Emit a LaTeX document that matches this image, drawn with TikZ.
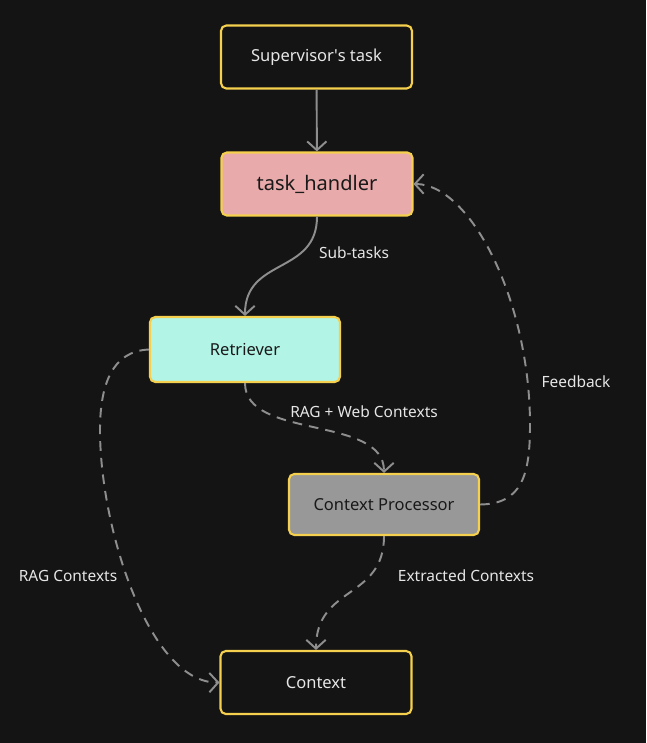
\documentclass[tikz,border=0pt]{standalone}
\usepackage{fontspec}
\setmainfont{Noto Sans}
\usetikzlibrary{arrows.meta}
\definecolor{bgc}{HTML}{141414}
\definecolor{rim}{HTML}{F5D04E}
\definecolor{pinkc}{HTML}{E8AAAA}
\definecolor{mintc}{HTML}{B2F4E6}
\definecolor{greyc}{HTML}{989898}
\definecolor{wire}{HTML}{8E8E8E}
\definecolor{txt}{HTML}{E6E6E6}
\begin{document}
\begin{tikzpicture}[x=0.02cm,y=-0.02cm,
    box/.style={draw=rim,line width=1.2pt,rounded corners=3pt,minimum width=3.82cm,minimum height=1.26cm,font=\fontsize{9.4}{11}\selectfont,text=txt,fill=bgc},
    link/.style={draw=wire,line width=1.1pt,-{Straight Barb[length=5pt,width=11pt,line width=1.1pt]}},
    dashline/.style={dash pattern=on 5.5pt off 4pt},
    tag/.style={text=txt,font=\fontsize{8.8}{10}\selectfont}]
    \useasboundingbox[fill=bgc] (0,0) rectangle (646,743);
    \node[box] (sup) at (316.5,57) {Supervisor\textquotesingle s task};
    \node[box,fill=pinkc,text=black!90,font=\fontsize{11.4}{13}\selectfont] (th) at (317,184) {task\_handler};
    \node[box,fill=mintc,text=black!90,minimum width=3.8cm,minimum height=1.3cm] (ret) at (245,349.5) {Retriever};
    \node[box,fill=greyc,text=black!90,minimum width=3.8cm,minimum height=1.22cm] (cp) at (384,504.5) {Context Processor};
    \node[box] (ctx) at (316,682.5) {Context};
    \draw[link] (sup) -- (th);
    \draw[link] (th.south) .. controls (317,275) and (245,257) .. (ret.north);
    \draw[link,dashline] (ret.south) .. controls (245,440) and (384,415) .. (cp.north);
    \draw[link,dashline] (cp.south) .. controls (384,600) and (316,585) .. (ctx.north);
    \draw[link,dashline] (ret.west) .. controls (112,351) and (100,385) .. (100,430) .. controls (100,530) and (150,683) .. (ctx.west);
    \draw[link,dashline] (cp.east) .. controls (522,504) and (530,475) .. (530,425) .. controls (530,300) and (470,184) .. (th.east);
    \node[tag] (l1) at (354,253) {Sub-tasks};
    \node[tag] (l2) at (364,412) {RAG + Web Contexts};
    \node[tag] (l3) at (466,576) {Extracted Contexts};
    \node[tag] (l4) at (68,576) {RAG Contexts};
    \node[tag] (l5) at (576,382) {Feedback};
\end{tikzpicture}
\end{document}
